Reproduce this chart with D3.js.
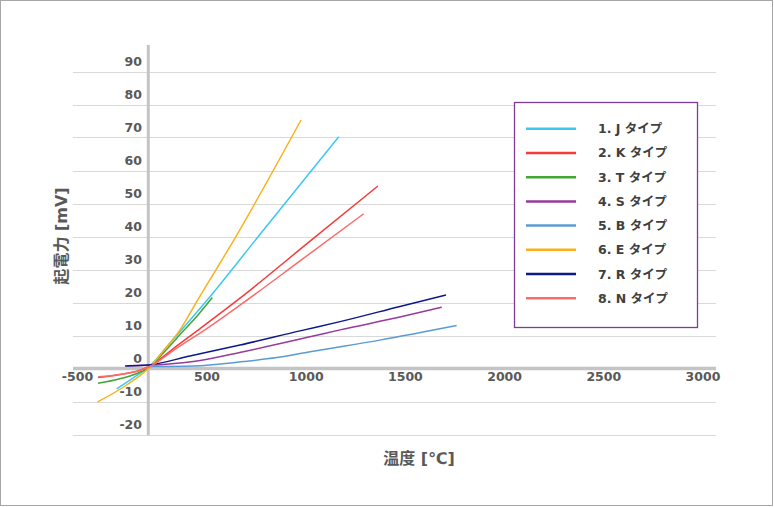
<!DOCTYPE html>
<html>
<head>
<meta charset="utf-8">
<script src="https://cdn.jsdelivr.net/npm/d3@7/dist/d3.min.js"></script>
<style>
  body { margin: 0; background: #fff; }
  .chart text { font-family: 'DejaVu Sans', 'Noto Sans CJK JP', sans-serif; font-weight: bold; fill: #595959; }
  .legend text { fill: #404040; }
</style>
</head>
<body>
<svg class="chart"></svg>
<script>
// thermocouple curves, [temperature degC, emf mV]
const typeJ = [[-197, -6.2], [-98, -2.9], [-4, 0.3], [128, 7.7], [346, 20.2], [665, 39.9], [1157, 70.2]]
const typeK = [[-311, -2.7], [-177, -1.8], [-55, -0.5], [6, 0.8], [158, 6.4], [301, 11.7], [555, 21.3], [982, 38.6], [1396, 55.3]]
const typeT = [[-311, -4.5], [-177, -3.1], [-73, -1.5], [-4, 0.2], [100, 5.4], [200, 10.9], [300, 16.3], [386, 21.5]]
const typeS = [[-136, 0.85], [-4, 0.97], [270, 2.1], [575, 5.1], [982, 9.6], [1165, 11.7], [1530, 15.6], [1785, 18.6]]
const typeB = [[-6, 0.6], [270, 0.76], [575, 2.1], [779, 3.3], [982, 5.1], [1408, 8.6], [1876, 13.0]]
const typeE = [[-313, -10.1], [-136, -5.0], [-4, 0], [92, 5.6], [189, 11.7], [290, 20.2], [529, 39.9], [927, 75.3]]
const typeR = [[-146, 0.76], [-4, 1.06], [250, 3.8], [555, 7.1], [921, 11.4], [1165, 14.2], [1530, 18.8], [1811, 22.3]]
const typeN = [[-309, -2.5], [-177, -1.8], [-55, -0.6], [6, 0.6], [158, 5.8], [341, 11.7], [555, 19.2], [921, 32.6], [1309, 46.9]]

const typeNames = ['1. J タイプ', '2. K タイプ', '3. T タイプ', '4. S タイプ', '5. B タイプ', '6. E タイプ', '7. R タイプ', '8. N タイプ']
const typeData = [typeJ, typeK, typeT, typeS, typeB, typeE, typeR, typeN]
const xTickLabels = [-500, 500, 1000, 1500, 2000, 2500, 3000]
const yTickLabels = [-20, -10, 0, 10, 20, 30, 40, 50, 60, 70, 80, 90]

const colors = ['#3cc8f2', '#f73b3b', '#42a535', '#983a9c', '#5b9bd5', '#fbb01c', '#0c1a88', '#fa6c6c']

const width = 774
const height = 507

const chart = d3.select('.chart')
  .attr('width', width)
  .attr('height', height)

chart.append('rect')
  .attr('x', 0.5).attr('y', 0.5)
  .attr('width', width - 2).attr('height', height - 2)
  .attr('fill', '#fff')
  .attr('stroke', '#a6a6a6')

// curves use the data scale, tick labels sit on their own spacing
const x = d3.scaleLinear().domain([0, 1000]).range([149, 313])
const xLabel = d3.scaleLinear().domain([-500, 500, 3000]).range([77.5, 207, 703])
const y = d3.scaleLinear().domain([-20, 90]).range([434.5, 71.5])
const left = 73
const right = 716

chart.append('g').attr('class', 'grid')
  .selectAll('line')
  .data(yTickLabels.filter(v => v !== 0))
  .enter()
  .append('line')
  .attr('x1', left).attr('x2', right)
  .attr('y1', v => Math.round(y(v)) + 0.5)
  .attr('y2', v => Math.round(y(v)) + 0.5)
  .attr('stroke', '#d9d9d9')

chart.append('line')
  .attr('x1', left).attr('x2', right)
  .attr('y1', y(0)).attr('y2', y(0))
  .attr('stroke', '#c4c4c4')
  .attr('stroke-width', 3.5)

chart.append('line')
  .attr('x1', 148.3).attr('x2', 148.3)
  .attr('y1', 45).attr('y2', 435)
  .attr('stroke', '#c4c4c4')
  .attr('stroke-width', 3)

chart.append('g').attr('class', 'axisLeft')
  .selectAll('text')
  .data(yTickLabels)
  .enter()
  .append('text')
  .attr('x', 142)
  .attr('y', v => y(v) - 10)
  .attr('dy', '0.36em')
  .attr('text-anchor', 'end')
  .attr('font-size', 12.5)
  .text(v => v)

chart.append('g').attr('class', 'axisBottom')
  .selectAll('text')
  .data(xTickLabels)
  .enter()
  .append('text')
  .attr('x', v => xLabel(v))
  .attr('y', y(0) + 8)
  .attr('dy', '0.36em')
  .attr('text-anchor', 'middle')
  .attr('font-size', 12.5)
  .text(v => v)

const line = d3.line()
  .x(d => x(d[0]))
  .y(d => y(d[1]))
  .curve(d3.curveMonotoneX)

chart.append('g').attr('class', 'series')
  .selectAll('path')
  .data(typeData)
  .enter()
  .append('path')
  .attr('d', line)
  .attr('fill', 'none')
  .attr('stroke', (d, i) => colors[i])
  .attr('stroke-width', 1.5)

chart.append('text')
  .attr('x', 419).attr('y', 458)
  .attr('dy', '0.36em')
  .attr('text-anchor', 'middle')
  .attr('font-size', 16)
  .text('温度 [℃]')

chart.append('text')
  .attr('transform', 'translate(61,236) rotate(-90)')
  .attr('dy', '0.36em')
  .attr('text-anchor', 'middle')
  .attr('font-size', 16)
  .text('起電力 [mV]')

const legend = chart.append('g').attr('class', 'legend')

legend.append('rect')
  .attr('x', 514.5).attr('y', 102.5)
  .attr('width', 183).attr('height', 225)
  .attr('fill', '#fff')
  .attr('stroke', '#7d3c98')
  .attr('stroke-width', 1.3)

const rowY = d3.scalePoint().domain(typeNames).range([128.7, 298.3])

const row = legend.selectAll('g')
  .data(typeNames)
  .enter()
  .append('g')
  .attr('transform', name => `translate(0,${rowY(name)})`)

row.append('line')
  .attr('x1', 526).attr('x2', 576)
  .attr('stroke', (d, i) => colors[i])
  .attr('stroke-width', 2.5)

row.append('text')
  .attr('x', 598)
  .attr('dy', '0.36em')
  .attr('font-size', 12.5)
  .text(name => name)
</script>
</body>
</html>
